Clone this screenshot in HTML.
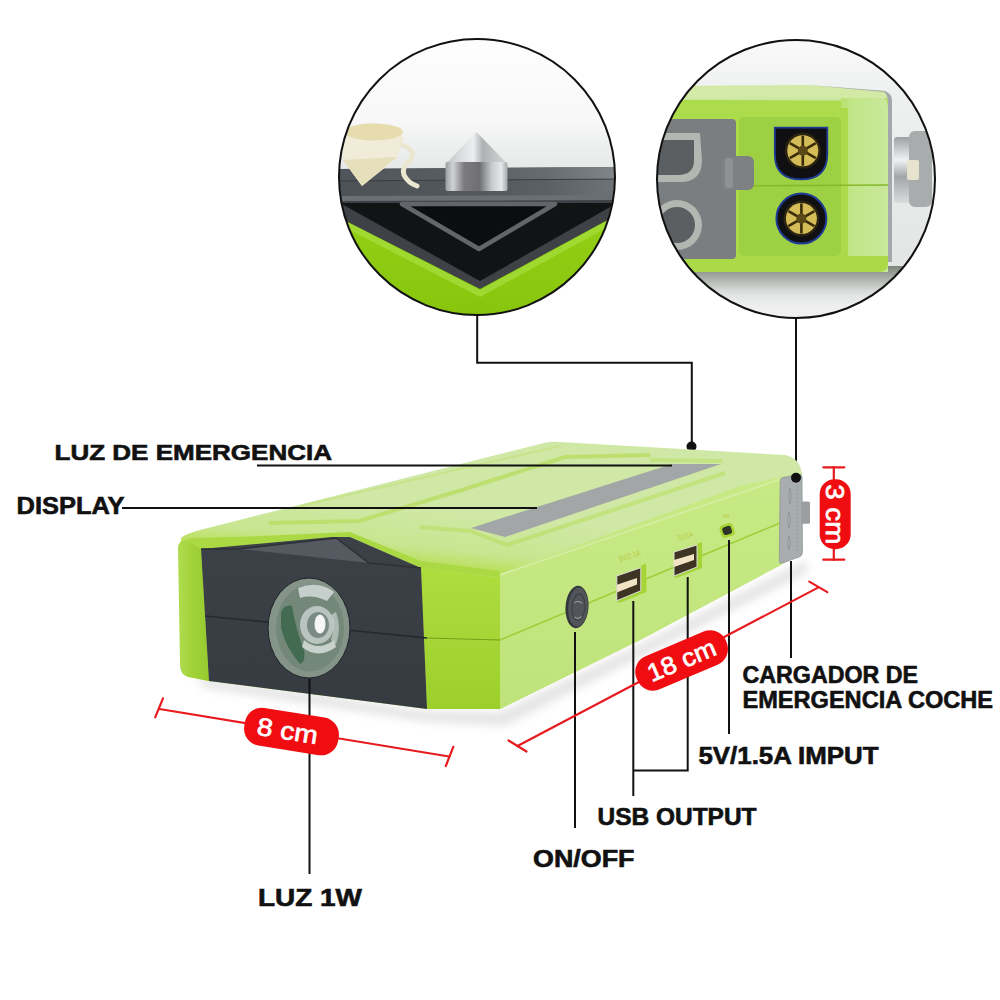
<!DOCTYPE html>
<html><head><meta charset="utf-8">
<style>
html,body{margin:0;padding:0;background:#fff;width:1000px;height:1000px;overflow:hidden}
svg{display:block}
text{font-family:"Liberation Sans",sans-serif;font-weight:bold}
.lbl{fill:#111;stroke:#111;stroke-width:0.6}
.pill{fill:#fff;font-weight:normal;stroke:#fff;stroke-width:0.7}
</style></head><body>
<svg width="1000" height="1000" viewBox="0 0 1000 1000">
<defs>
  <clipPath id="c1"><circle cx="477" cy="177" r="138"/></clipPath>
  <clipPath id="c2"><circle cx="796" cy="179" r="139"/></clipPath>
  <linearGradient id="sky1" x1="0" y1="0" x2="0" y2="1">
    <stop offset="0" stop-color="#fefefe"/><stop offset="0.3" stop-color="#f7f8f7"/><stop offset="0.46" stop-color="#e6e9e7"/><stop offset="1" stop-color="#e6e9e7"/>
  </linearGradient>
  <linearGradient id="sky2" x1="0" y1="0" x2="0" y2="1">
    <stop offset="0" stop-color="#fbfbfb"/><stop offset="0.2" stop-color="#eff1f0"/><stop offset="0.8" stop-color="#e2e5e3"/><stop offset="1" stop-color="#f4f5f4"/>
  </linearGradient>
  <linearGradient id="metal" x1="0" y1="0" x2="1" y2="0">
    <stop offset="0" stop-color="#9a9ea2"/><stop offset="0.12" stop-color="#d0d3d6"/><stop offset="0.3" stop-color="#7c7a7c"/><stop offset="0.55" stop-color="#6e6f74"/><stop offset="0.75" stop-color="#c9ccce"/><stop offset="0.9" stop-color="#e6e8ea"/><stop offset="1" stop-color="#a4a8ab"/>
  </linearGradient>
  <linearGradient id="cone" x1="0" y1="0" x2="1" y2="0">
    <stop offset="0" stop-color="#c4c6c8"/><stop offset="0.45" stop-color="#eceeef"/><stop offset="0.6" stop-color="#aeb1b3"/><stop offset="1" stop-color="#d6d8d9"/>
  </linearGradient>
  <linearGradient id="knob" x1="0" y1="0" x2="0" y2="1">
    <stop offset="0" stop-color="#9da0a2"/><stop offset="0.35" stop-color="#f0f1f2"/><stop offset="0.6" stop-color="#a3a6a8"/><stop offset="1" stop-color="#d9dbdc"/>
  </linearGradient>
  <radialGradient id="shadow" cx="0.5" cy="0.5" r="0.5">
    <stop offset="0" stop-color="#dfe2df"/><stop offset="0.6" stop-color="#eef0ee"/><stop offset="1" stop-color="#ffffff" stop-opacity="0"/>
  </radialGradient>
  <linearGradient id="topface" x1="340" y1="560" x2="346" y2="500" gradientUnits="userSpaceOnUse">
    <stop offset="0" stop-color="#b6de52"/><stop offset="0.35" stop-color="#c8e690"/><stop offset="1" stop-color="#cfe8a6"/>
  </linearGradient>
  <linearGradient id="sideface" x1="0" y1="0" x2="0" y2="1">
    <stop offset="0" stop-color="#c8ea86"/><stop offset="1" stop-color="#bfe37a"/>
  </linearGradient>
  <radialGradient id="lensg" cx="0.45" cy="0.45" r="0.6">
    <stop offset="0" stop-color="#c8d2ce"/><stop offset="0.5" stop-color="#6f8a78"/><stop offset="1" stop-color="#586a5e"/>
  </radialGradient>
  <linearGradient id="endface" x1="0" y1="0" x2="1" y2="0">
    <stop offset="0" stop-color="#b6e06a"/><stop offset="0.2" stop-color="#c0e586"/><stop offset="1" stop-color="#c9e89c"/>
  </linearGradient>
  <filter id="blur4" x="-20%" y="-50%" width="140%" height="200%"><feGaussianBlur stdDeviation="4"/></filter>
  <linearGradient id="slab" x1="339" y1="0" x2="615" y2="0" gradientUnits="userSpaceOnUse">
    <stop offset="0" stop-color="#4d5257"/><stop offset="0.5" stop-color="#53585d"/><stop offset="0.75" stop-color="#5b6065"/><stop offset="1" stop-color="#6e7378"/>
  </linearGradient>
  <linearGradient id="slabtop" x1="339" y1="0" x2="615" y2="0" gradientUnits="userSpaceOnUse">
    <stop offset="0" stop-color="#50555b"/><stop offset="0.5" stop-color="#5a5f64"/><stop offset="0.75" stop-color="#666b70"/><stop offset="1" stop-color="#80858a"/>
  </linearGradient>
  <linearGradient id="g1green" x1="0" y1="0" x2="0" y2="1">
    <stop offset="0" stop-color="#94d016"/><stop offset="1" stop-color="#86c40c"/>
  </linearGradient>
  <linearGradient id="strip" x1="0" y1="0" x2="1" y2="0">
    <stop offset="0" stop-color="#b0dc50"/><stop offset="0.4" stop-color="#a2d43a"/><stop offset="1" stop-color="#96ca2e"/>
  </linearGradient>
  <linearGradient id="plate" x1="0" y1="0" x2="0" y2="1">
    <stop offset="0" stop-color="#3c4148"/><stop offset="1" stop-color="#363b42"/>
  </linearGradient>
  <linearGradient id="frgreen" x1="0" y1="0" x2="0" y2="1">
    <stop offset="0" stop-color="#aedd3e"/><stop offset="1" stop-color="#9ccf2c"/>
  </linearGradient>
  <linearGradient id="c2shadow" x1="0" y1="0" x2="0" y2="1">
    <stop offset="0" stop-color="#7f877c"/><stop offset="0.3" stop-color="#a9aea8"/><stop offset="0.6" stop-color="#d6d9d6"/><stop offset="1" stop-color="#eceeed" stop-opacity="0"/>
  </linearGradient>
</defs>
<rect width="1000" height="1000" fill="#fff"/>

<!-- ============ LEFT CIRCLE ============ -->
<g clip-path="url(#c1)">
  <rect x="330" y="30" width="300" height="300" fill="url(#sky1)"/>
  <!-- green below -->
  <rect x="330" y="195" width="300" height="140" fill="url(#g1green)"/>
  <!-- lighter bevel band on green -->
  <polygon points="330,213 480,290 630,208 630,215 480,297 330,220" fill="#a4dc38" opacity="0.8"/>
  <!-- dark slab top -->
  <polygon points="330,169 630,167 630,202 330,204" fill="url(#slab)"/>
  <polygon points="330,169 630,167 630,179 330,181" fill="url(#slabtop)"/>
  <line x1="330" y1="181" x2="630" y2="179" stroke="#3a3e42" stroke-width="1"/>
  <polygon points="330,196 630,195 630,201 330,202" fill="#6a6f74"/>
  <!-- dark frame V -->
  <polygon points="330,201 630,200 630,208 480,289 330,213" fill="#3e4145"/>
  <polygon points="340,203 617,203 480,281" fill="#121314"/>
  <polygon points="402,204 555,204 479,249" fill="#0c0d0e" stroke="#62666a" stroke-width="4.5" stroke-linejoin="round"/>
  <!-- spike -->
  <polygon points="476.5,132 445.5,164 507.5,164" fill="url(#cone)"/>
  <rect x="445.5" y="162" width="62" height="29" rx="2" fill="url(#metal)"/>
  <!-- beige cup -->
  <path d="M343,135 Q345,124 370,123 Q398,124 404,140 L401,143 Q400,152 397,158 L362,186 L343,160 Z" fill="#f0ecd8"/>
  <path d="M343,160 L397,157 L362,186 Z" fill="#e6dfbc"/>
  <ellipse cx="374" cy="132" rx="29" ry="8.5" fill="#e6dcae"/>
  <path d="M402,145 Q416,150 411,159 Q401,167 404,175 Q408,183 417,186" fill="none" stroke="#ebe6cf" stroke-width="5" stroke-linecap="round"/>
</g>
<circle cx="477" cy="177" r="138" fill="none" stroke="#111" stroke-width="2"/>

<!-- ============ RIGHT CIRCLE ============ -->
<g clip-path="url(#c2)">
  <rect x="650" y="30" width="300" height="300" fill="url(#sky2)"/>
  <rect x="650" y="266" width="300" height="40" fill="url(#c2shadow)"/>
  <!-- green block -->
  <path d="M650,86 L884,91 Q888,94 888,104 L888,272 L650,272 Z" fill="#abdb4a"/>
  <path d="M650,86 L809,85 L884,91 Q888,94 888,98 L650,98 Z" fill="#d3eaa6"/>
  <path d="M650,98 L884,98 Q888,100 888,104 L888,101 L650,100 Z" fill="#cce6a4"/>
  <path d="M650,100 L888,101 L888,120 L650,119 Z" fill="#acdb4c"/>
  <path d="M841,98 L882,98 Q888,100 888,108 L888,272 L841,272 Z" fill="url(#endface)"/>
  <rect x="840" y="108" width="8" height="164" fill="#acda4a"/>
  <path d="M650,256 L888,256 L888,264 Q888,272 878,272 L650,272 Z" fill="#abda48"/>
  <path d="M809,85 L885,91 Q892,94 892,100 L892,262 L888,262 L888,104 Q888,94 884,92 Z" fill="#a4a8aa"/>
  <!-- gray panel -->
  <rect x="655" y="119" width="81" height="140" rx="4" fill="#7a7e81"/>
  <path d="M640,133 L700,133 L702,160 Q702,182 680,182 L640,182 Z" fill="#b3b6b1"/>
  <path d="M640,140 L694,140 L694,160 Q694,175 678,175 L640,175 Z" fill="#5c5f61"/>
  <circle cx="677" cy="225" r="25" fill="#b3b6b1"/>
  <circle cx="677" cy="225" r="18" fill="#5c5f61"/>
    <!-- recess -->
  <rect x="739" y="117" width="102" height="139" rx="5" fill="#9dd042"/>
  <line x1="739" y1="186" x2="888" y2="185" stroke="#86b82a" stroke-width="1.5"/>
  <rect x="722" y="156" width="32" height="34" rx="6" fill="#7d8182"/>
  <rect x="725" y="158" width="8" height="30" rx="3" fill="#8e9293"/>
  <!-- connector 1 -->
  <path d="M774.8,127.6 L827.3,127.6 L827.3,154 Q827.3,179.4 801,179.4 Q774.8,179.4 774.8,154 Z" fill="#101012" stroke="#1f3c96" stroke-width="1.8"/>
  <circle cx="802.8" cy="150.7" r="18" fill="#2a2410"/>
  <circle cx="802.8" cy="150.7" r="15.5" fill="#d4bc58"/>
  <g stroke="#3a2c08" stroke-width="2.6"><line x1="802.8" y1="150.7" x2="815.8" y2="158.2"/><line x1="802.8" y1="150.7" x2="802.8" y2="165.7"/><line x1="802.8" y1="150.7" x2="789.8" y2="158.2"/><line x1="802.8" y1="150.7" x2="789.8" y2="143.2"/><line x1="802.8" y1="150.7" x2="802.8" y2="135.7"/><line x1="802.8" y1="150.7" x2="815.8" y2="143.2"/></g>
  <circle cx="802.8" cy="150.7" r="5" fill="#5a4818"/>
  <!-- connector 2 -->
  <circle cx="801.4" cy="218.6" r="25" fill="#101012" stroke="#1f3c96" stroke-width="2"/>
  <circle cx="801.4" cy="218.6" r="18" fill="#2a2410"/>
  <circle cx="801.4" cy="218.6" r="15.5" fill="#d4bc58"/>
  <g stroke="#3a2c08" stroke-width="2.6"><line x1="801.4" y1="218.6" x2="814.4" y2="226.1"/><line x1="801.4" y1="218.6" x2="801.4" y2="233.6"/><line x1="801.4" y1="218.6" x2="788.4" y2="226.1"/><line x1="801.4" y1="218.6" x2="788.4" y2="211.1"/><line x1="801.4" y1="218.6" x2="801.4" y2="203.6"/><line x1="801.4" y1="218.6" x2="814.4" y2="211.1"/></g>
  <circle cx="801.4" cy="218.6" r="5" fill="#5a4818"/>
  <!-- knob -->
  <rect x="894" y="137" width="22" height="66" rx="3" fill="url(#knob)"/>
  <rect x="909" y="131" width="23" height="76" rx="6" fill="#a9acad"/>
  <rect x="907" y="160" width="12" height="20" rx="2" fill="#e8e3cf"/>
</g>
<circle cx="796" cy="179" r="139" fill="none" stroke="#111" stroke-width="2"/>

<!-- ============ CONNECTOR LINES ============ -->
<polyline points="477.2,316 477.2,362.8 691.8,362.8 691.8,446" fill="none" stroke="#111" stroke-width="2" stroke-linejoin="miter"/>
<circle cx="691.5" cy="446.5" r="5" fill="#111"/>
<line x1="796" y1="318" x2="796" y2="478" stroke="#111" stroke-width="2"/>

<!-- ============ DEVICE ============ -->
<path d="M195,676 L427,711 L500,712 L640,644 L805,560 L808,572 L505,726 L427,722 L205,688 Z" fill="#c9ccc9" opacity="0.5" filter="url(#blur4)"/>
<!-- silhouette / top face -->
<path d="M181,538 Q185,534 200,530 L540,444 Q550,441 560,442 L785,455 Q800,458 802,474 L802,553 L779,566 L640,640 L500,709 L427,709 L209,681 Q187,678 184,664 Z" fill="url(#topface)"/>
<!-- top face panel details -->
<polyline points="269,523 359,521 462,490 565,457 650,455" fill="none" stroke="#b5dc5a" stroke-width="4" stroke-linejoin="round" opacity="0.7"/>
<polyline points="300,506 560,446" fill="none" stroke="#c0e070" stroke-width="2" opacity="0.5"/>
<polyline points="420,527 470,531 507,545 725,473" fill="none" stroke="#b8de60" stroke-width="4" stroke-linejoin="round" opacity="0.6"/>
<polyline points="650,460 722,461" fill="none" stroke="#b8de5e" stroke-width="4" opacity="0.5"/>
<!-- front rim (lime) -->
<polygon points="180,542 192,538 250,536.5 350,532 421,561 500,571 500,577 421,568 350,537 201,549 183,552" fill="#abd944"/>
<!-- side face -->
<polygon points="500,574 740,486 790,475 800,478 802,553 779,566 640,640 500,709" fill="url(#sideface)"/>
<line x1="500" y1="575" x2="790" y2="476" stroke="#d6eea6" stroke-width="1.5"/>
<line x1="500" y1="640" x2="780" y2="523" stroke="#9fcf3a" stroke-width="1.5"/>
<!-- front green -->
<path d="M178,548 Q178,541 186,540 L201,549 L209,681 L188,677 Q180,675 180,664 Z" fill="url(#strip)"/>
<polygon points="421,568 500,578 500,709 427,709" fill="url(#frgreen)"/>
<line x1="427" y1="638" x2="500" y2="640" stroke="#769f1c" stroke-width="1.2"/>
<!-- dark face -->
<polygon points="201,549 332,537 350,537 421,568 427,709 209,681" fill="url(#plate)"/>
<polygon points="239,549 336,538 369,563" fill="#555a61"/>
<polyline points="201,549 239,549 336,538 369,563 421,568" fill="none" stroke="#2c3036" stroke-width="1.5"/>
<line x1="205" y1="616" x2="427" y2="638" stroke="#25292e" stroke-width="1.5"/>
<!-- display strip -->
<polygon points="471,528 672,464 721,464 505,537" fill="#a3a6a6"/>
<!-- lens -->
<ellipse cx="309" cy="628" rx="41" ry="50" fill="#849488" stroke="#1d2226" stroke-width="1"/>
<ellipse cx="310" cy="628" rx="34" ry="43.5" fill="#74887a"/>
<path d="M281,612 Q285,604 292,606 Q296,630 304,650 Q306,662 300,664 Q286,648 281,628 Z" fill="#2f6040" opacity="0.7"/>
<path d="M298,588 Q318,580 334,592 L327,601 Q312,594 300,598 Z" fill="#d5dcd9" opacity="0.85"/>
<ellipse cx="317" cy="625" rx="17" ry="19" fill="#b9c4c0"/>
<ellipse cx="318" cy="625" rx="11" ry="13" fill="#7a8b84"/>
<ellipse cx="320" cy="624" rx="5.5" ry="9.5" fill="#f4f7f6"/>
<path d="M304,640 Q318,652 334,640 L336,647 Q318,660 302,647 Z" fill="#dde3e0" opacity="0.8"/>
<path d="M336,612 Q342,628 336,644 L331,640 Q335,628 331,615 Z" fill="#c8d2ce" opacity="0.7"/>
<!-- gray cap -->
<path d="M783,477.5 L799,474.5 Q802,474 802,477 L802.4,552 Q802.4,556 799,557 L782,563 Q779.3,564 779.3,561 L780.2,481 Q780.2,478 783,477.5 Z" fill="#a8adaf" stroke="#8f9496" stroke-width="0.8"/>
<g fill="none" stroke="#8a8f91" stroke-width="0.9" opacity="0.8">
<path d="M790,488 Q787,496 790,504 Q793,496 790,488"/>
<path d="M789,512 Q786,520 789,528 Q792,520 789,512"/>
<path d="M789,536 Q786,543 789,550 Q792,543 789,536"/>
<line x1="797" y1="485" x2="797" y2="552" stroke-dasharray="2 2"/>
</g>
<rect x="801.6" y="501.4" width="8.4" height="22.4" rx="1.5" fill="#9a9e9f"/>
<circle cx="796" cy="477.8" r="5" fill="#111"/>
<!-- button -->
<g transform="rotate(4 577 607)">
<ellipse cx="577" cy="607" rx="11.5" ry="21.2" fill="#33373b"/>
<ellipse cx="578" cy="607" rx="9.8" ry="19.5" fill="#52565b"/>
<ellipse cx="578.5" cy="607" rx="6.5" ry="13" fill="none" stroke="#3e4246" stroke-width="1.2"/>
<path d="M574,603 Q578,600 582,603" fill="none" stroke="#9a9ea2" stroke-width="1"/>
<path d="M575,617 Q579,620 582,616" fill="none" stroke="#9a9ea2" stroke-width="1"/>
</g>
<!-- usb ports -->
<polygon points="640.8,566 646,563.5 646.5,592 619,603 616.8,601 640.8,591" fill="#a5d436"/>
<polygon points="616.8,575.9 640.8,567.7 640.8,590.8 616.8,600.7" fill="#3d3424" stroke="#dedfd6" stroke-width="1"/>
<polygon points="616.8,584.7 637,578.1 637,584.6 616.8,592.4" fill="#f1e4c4"/>
<polygon points="697,544 702,542 702,568 676,578 674,576 697,567" fill="#a5d436"/>
<polygon points="674,552 697,545 697,567 674,576" fill="#3d3424" stroke="#dedfd6" stroke-width="1"/>
<polygon points="674,560 694,554 694,560 674,567" fill="#f1e4c4"/>
<rect x="720" y="524" width="14" height="13" rx="4" fill="#a6d434" transform="rotate(-18 727 530)"/>
<rect x="722.5" y="526.5" width="9" height="8" rx="2.5" fill="#2e3328" transform="rotate(-18 727 530)"/>

<text x="620" y="562" font-size="8" style="fill:#b5c83a;font-weight:normal" transform="rotate(-18 620 562)" textLength="22" lengthAdjust="spacingAndGlyphs">5V/2.1A</text>
<text x="679" y="541" font-size="8" style="fill:#b5c83a;font-weight:normal" transform="rotate(-18 679 541)" textLength="15" lengthAdjust="spacingAndGlyphs">5V/1A</text>
<text x="723" y="518" font-size="6" style="fill:#b5c83a;font-weight:normal">IN</text>
<!-- ============ CALLOUT LINES ============ -->
<line x1="257" y1="465.5" x2="672" y2="465.5" stroke="#111" stroke-width="2"/>
<line x1="122" y1="508" x2="537" y2="508" stroke="#111" stroke-width="2"/>
<line x1="309.5" y1="679" x2="309.5" y2="874" stroke="#111" stroke-width="2"/>
<line x1="575" y1="632" x2="575" y2="828" stroke="#111" stroke-width="2"/>
<polyline points="633.3,601 633.3,796" fill="none" stroke="#111" stroke-width="2"/>
<polyline points="687.7,577 687.7,770.4 633.3,770.4" fill="none" stroke="#111" stroke-width="2" stroke-linejoin="miter"/>
<line x1="729" y1="540" x2="729" y2="734" stroke="#111" stroke-width="2"/>
<line x1="791" y1="561" x2="791" y2="658" stroke="#111" stroke-width="2"/>

<!-- ============ RED DIMENSIONS ============ -->
<g stroke="#e61a1f" stroke-width="2.2" fill="none" stroke-linecap="round">
  <line x1="159.5" y1="709" x2="449" y2="756.5"/>
  <line x1="163" y1="698.3" x2="155.2" y2="717.3"/>
  <line x1="453.3" y1="746.8" x2="445.8" y2="766"/>
  <line x1="517.5" y1="746" x2="818" y2="587.6"/>
  <line x1="508.5" y1="740.5" x2="526.5" y2="751.5"/>
  <line x1="809.3" y1="581.6" x2="827.3" y2="592.1"/>
  <line x1="833.8" y1="467" x2="833.8" y2="560"/>
  <line x1="823.3" y1="467.3" x2="844.3" y2="467.3"/>
  <line x1="823.3" y1="559.7" x2="844.3" y2="559.7"/>
</g>
<g transform="translate(291.5,731.6) rotate(9)">
  <rect x="-47.5" y="-19" width="95" height="38" rx="17" fill="#f00d12"/>
  <text x="-4" y="8.5" text-anchor="middle" font-size="25" class="pill" textLength="61" lengthAdjust="spacingAndGlyphs">8 cm</text>
</g>
<g transform="translate(681.6,660.4) rotate(-23)">
  <rect x="-48.5" y="-18" width="97" height="36" rx="17" fill="#f00d12"/>
  <text x="0" y="8.5" text-anchor="middle" font-size="25" class="pill" textLength="72" lengthAdjust="spacingAndGlyphs">18 cm</text>
</g>
<g transform="translate(835.2,514.2) rotate(90)">
  <rect x="-35" y="-15.5" width="70" height="31" rx="15" fill="#f00d12"/>
  <text x="0" y="9" text-anchor="middle" font-size="25" class="pill" textLength="60" lengthAdjust="spacingAndGlyphs">3 cm</text>
</g>

<!-- ============ LABELS ============ -->
<text x="54.5" y="459.6" font-size="22.5" class="lbl" textLength="277.5" lengthAdjust="spacingAndGlyphs">LUZ DE EMERGENCIA</text>
<text x="16.5" y="513.6" font-size="23.5" class="lbl" textLength="108" lengthAdjust="spacingAndGlyphs">DISPLAY</text>
<text x="742.5" y="682.8" font-size="23.5" class="lbl" textLength="175.5" lengthAdjust="spacingAndGlyphs">CARGADOR DE</text>
<text x="742.5" y="707.6" font-size="23.5" class="lbl" textLength="250.5" lengthAdjust="spacingAndGlyphs">EMERGENCIA COCHE</text>
<text x="698.5" y="764" font-size="23" class="lbl" textLength="180" lengthAdjust="spacingAndGlyphs">5V/1.5A IMPUT</text>
<text x="597.5" y="824.8" font-size="23" class="lbl" textLength="159" lengthAdjust="spacingAndGlyphs">USB OUTPUT</text>
<text x="533" y="867.4" font-size="23" class="lbl" textLength="101.5" lengthAdjust="spacingAndGlyphs">ON/OFF</text>
<text x="258" y="905.8" font-size="23" class="lbl" textLength="104" lengthAdjust="spacingAndGlyphs">LUZ 1W</text>
</svg>
</body></html>
